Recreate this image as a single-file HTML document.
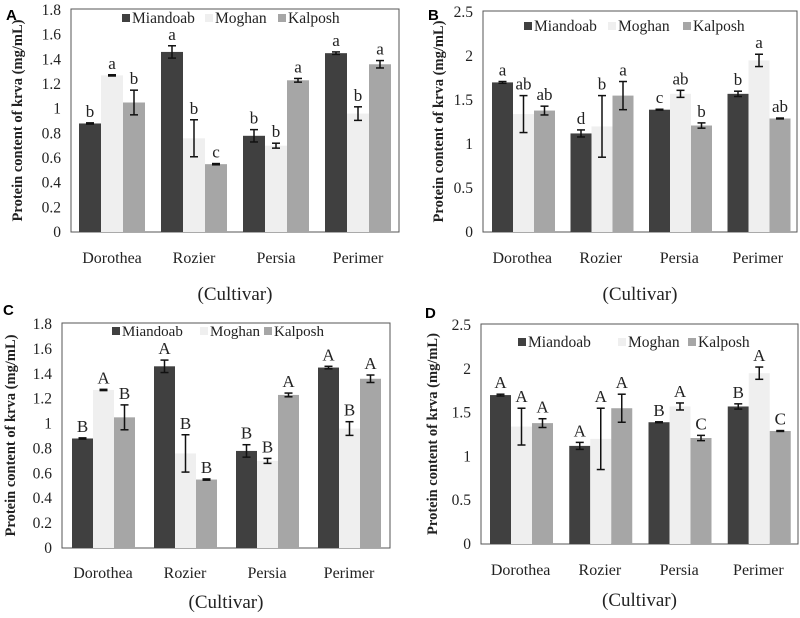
<!DOCTYPE html>
<html><head><meta charset="utf-8">
<style>
html,body{margin:0;padding:0;background:#fff;}
svg{display:block;}
text{font-family:"Liberation Serif",serif;fill:#222;}
</style></head>
<body>
<svg id="chart" width="800" height="618" viewBox="0 0 800 618" xmlns="http://www.w3.org/2000/svg"></svg>
<script>
const categories = ["Dorothea","Rozier","Persia","Perimer"];
const seriesNames = ["Miandoab","Moghan","Kalposh"];
// Panels A & C (same data)
const acMiandoab = [0.88,1.46,0.78,1.45];
const acMoghan   = [1.27,0.76,0.70,0.96];
const acKalposh  = [1.05,0.55,1.23,1.36];
const acErrMiandoab = [0.005,0.05,0.05,0.01];
const acErrMoghan   = [0.005,0.15,0.02,0.055];
const acErrKalposh  = [0.10,0.005,0.015,0.03];
const aLetters = [["b","a","b"],["a","b","c"],["b","b","a"],["a","b","a"]];
const cLetters = [["B","A","B"],["A","B","B"],["B","B","A"],["A","B","A"]];
const acTicks = [0,0.2,0.4,0.6,0.8,1,1.2,1.4,1.6,1.8];
// Panels B & D
const bdMiandoab = [1.70,1.12,1.39,1.57];
const bdMoghan   = [1.34,1.20,1.57,1.95];
const bdKalposh  = [1.38,1.55,1.21,1.29];
const bdErrMiandoab = [0.01,0.04,0.005,0.03];
const bdErrMoghan   = [0.21,0.35,0.04,0.07];
const bdErrKalposh  = [0.05,0.16,0.03,0.005];
const bLetters = [["a","ab","ab"],["d","b","a"],["c","ab","b"],["b","a","ab"]];
const dLetters = [["A","A","A"],["A","A","A"],["B","A","C"],["B","A","C"]];
const bdTicks = [0,0.5,1,1.5,2,2.5];

const colors = ["#404040","#efefef","#a6a6a6"];
const NS = "http://www.w3.org/2000/svg";
const svg = document.getElementById("chart");
function mk(tag, attrs, parent, txt){
  const e = document.createElementNS(NS, tag);
  for (const k in attrs) e.setAttribute(k, attrs[k]);
  if (txt !== undefined) e.textContent = txt;
  parent.appendChild(e);
  return e;
}

const panels = [
  {id:"a", letter:"A", L:71, R:399, T:9, B:232, max:1.8, ticks:acTicks, vals:[acMiandoab,acMoghan,acKalposh], errs:[acErrMiandoab,acErrMoghan,acErrKalposh], letters:aLetters, barOff:8, barW:22, legY:19, legX:[122,205,278], legF:15.5, catY:263, cultY:300, titleX:17, panelX:6, panelY:20},
  {id:"b", letter:"B", L:483, R:797, T:11, B:232, max:2.5, ticks:bdTicks, vals:[bdMiandoab,bdMoghan,bdKalposh], errs:[bdErrMiandoab,bdErrMoghan,bdErrKalposh], letters:bLetters, barOff:9, barW:21, legY:27, legX:[524,608,683], legF:15.5, catY:263, cultY:300, titleX:438, panelX:428, panelY:20},
  {id:"c", letter:"C", L:62, R:390, T:323, B:548, max:1.8, ticks:acTicks, vals:[acMiandoab,acMoghan,acKalposh], errs:[acErrMiandoab,acErrMoghan,acErrKalposh], letters:cLetters, barOff:10, barW:21, legY:332, legX:[112,200,264], legF:15, catY:578, cultY:608, titleX:10, panelX:3, panelY:315},
  {id:"d", letter:"D", L:481, R:798, T:324, B:544, max:2.5, ticks:bdTicks, vals:[bdMiandoab,bdMoghan,bdKalposh], errs:[bdErrMiandoab,bdErrMoghan,bdErrKalposh], letters:dLetters, barOff:9, barW:21, legY:343, legX:[518,618,688], legF:15.5, catY:575, cultY:606, titleX:432, panelX:425, panelY:318}
];

panels.forEach(p => {
  const g = mk("g", {}, svg);
  
  
  const yTop = p.T + 1;
  const y = v => p.B - (v / p.max) * (p.B - yTop);
  const pitch = (p.R - p.L) / categories.length;
  const x = (ci, si) => p.L + ci * pitch + p.barOff + si * p.barW;

  const frame = mk("rect", {x:p.L, y:p.T, width:p.R - p.L, height:p.B - p.T, fill:"none", stroke:"#555", "stroke-width":1}, g);
  
  

  const pl = mk("text", {x:p.panelX, y:p.panelY, "font-weight":"bold", "font-size":15, style:"font-family:'Liberation Sans',sans-serif;fill:#000"}, g, p.letter);
  
  

  p.ticks.forEach(t => {
    const tl = mk("text", {x:p.L - 10, y:y(t) + 5, "text-anchor":"end", "font-size":15.5}, g, String(t));
    
    
  });

  const ty = (p.T + p.B) / 2;
  const yt = mk("text", {x:p.titleX, y:ty, "text-anchor":"middle", "font-size":14.5, "font-weight":"bold", transform:"rotate(-90 " + (p.titleX) + " " + ty + ") translate(0 5)"}, g, "Protein content of krva (mg/mL)");
  
  

  p.vals.forEach((series, si) => {
    series.forEach((v, ci) => {
      const bx = x(ci, si);
      const r = mk("rect", {x:bx, y:y(v), width:p.barW, height:p.B - y(v), fill:colors[si]}, g);
      
      
      const e = p.errs[si][ci];
      const cx = bx + p.barW / 2;
      const eg = mk("g", {stroke:"#111", "stroke-width":1.5}, g);
      
      
      mk("line", {x1:cx, x2:cx, y1:y(v + e), y2:y(v - e)}, eg);
      mk("line", {x1:cx - 4, x2:cx + 4, y1:y(v + e), y2:y(v + e)}, eg);
      mk("line", {x1:cx - 4, x2:cx + 4, y1:y(v - e), y2:y(v - e)}, eg);
      const lt = mk("text", {x:cx, y:y(v + e) - 6, "text-anchor":"middle", "font-size":17}, g, p.letters[ci][si]);
      
      
    });
  });

  categories.forEach((c, ci) => {
    const cl = mk("text", {x:p.L + (ci + 0.5) * pitch, y:p.catY, "text-anchor":"middle", "font-size":16}, g, c);
    
    
  });
  const xt = mk("text", {x:(p.L + p.R) / 2, y:p.cultY, "text-anchor":"middle", "font-size":19}, g, "(Cultivar)");
  
  

  seriesNames.forEach((s, si) => {
    const lg = mk("g", {}, g);
    
    
    mk("rect", {x:p.legX[si], y:p.legY - 5, width:8, height:8, fill:colors[si]}, lg);
    mk("text", {x:p.legX[si] + 10, y:p.legY + 4, "font-size":p.legF}, lg, s);
  });
});
</script>
</body></html>
